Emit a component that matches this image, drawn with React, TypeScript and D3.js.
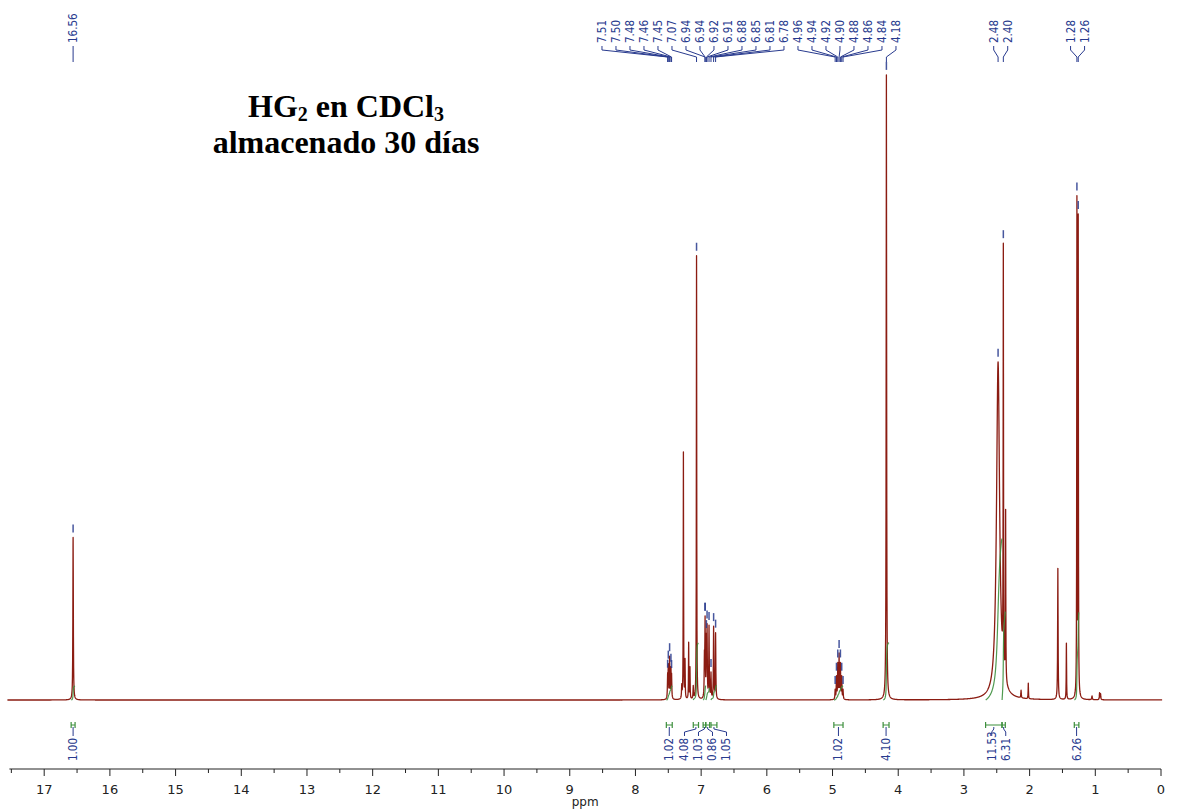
import React from "react";
import * as d3 from "d3";

const WIDTH = 1177;
const HEIGHT = 809;
const BASE_Y = 700;
const TOP_Y = 75;
const AXIS_Y = 769;

const RED = "#8b1c12";
const BLUE = "#283a8e";
const GREEN = "#3d8f3d";
const LABEL_FONT = "'DejaVu Sans Condensed', 'Liberation Sans', sans-serif";

// peaks: chemical shift (ppm), height (% of the 4.18 singlet), half width (ppm)
const peakShifts = [
  16.56,
  7.51, 7.5, 7.48, 7.46, 7.45,
  7.295, 7.27, 7.245, 7.19, 7.17, 7.12, 7.07,
  6.95, 6.94, 6.92, 6.91, 6.88, 6.85, 6.81, 6.78,
  4.96, 4.94, 4.92, 4.9, 4.88, 4.86, 4.84,
  4.18,
  2.48, 2.4, 2.365, 2.13, 2.02,
  1.57, 1.44, 1.28, 1.26, 1.05, 0.935, 0.92,
];
const peakHeights = [
  26,
  3.5, 5, 6.5, 4.5, 3.5,
  2, 39.5, 6, 9, 5, 2, 71,
  6, 12, 8.5, 10.5, 11.5, 4, 11.5, 10.5,
  1.5, 3.5, 5.5, 7, 5.5, 3.5, 1.5,
  100,
  54, 67, 27, 1.2, 2.5,
  21, 9, 79, 76, 0.6, 1.1, 0.9,
];
const peakWidths = [
  0.004,
  0.004, 0.004, 0.004, 0.004, 0.004,
  0.004, 0.003, 0.003, 0.003, 0.003, 0.004, 0.003,
  0.004, 0.004, 0.004, 0.004, 0.004, 0.004, 0.004, 0.004,
  0.004, 0.004, 0.004, 0.004, 0.004, 0.004, 0.004,
  0.004,
  0.028, 0.003, 0.003, 0.004, 0.003,
  0.004, 0.003, 0.003, 0.003, 0.005, 0.004, 0.004,
];

const peakLabels = [
  "16.56",
  "7.51", "7.50", "7.48", "7.46", "7.45", "7.07", "6.94", "6.94", "6.92", "6.91", "6.88", "6.85", "6.81", "6.78",
  "4.96", "4.94", "4.92", "4.90", "4.88", "4.86", "4.84", "4.18",
  "2.48", "2.40",
  "1.28", "1.26",
];

// integration regions
const integralFrom = [16.59, 7.53, 7.12, 6.97, 6.93, 6.85, 4.98, 4.23, 2.67, 2.42, 1.32];
const integralTo = [16.53, 7.44, 7.04, 6.93, 6.87, 6.76, 4.84, 4.14, 2.42, 2.37, 1.25];
const integralValues = [1.0, 1.02, 4.08, 1.03, 0.86, 1.05, 1.02, 4.1, 11.53, 6.31, 6.26];

const majorTicks = [0, 1, 2, 3, 4, 5, 6, 7, 8, 9, 10, 11, 12, 13, 14, 15, 16, 17];
const minorTicks = [0.5, 1.5, 2.5, 3.5, 4.5, 5.5, 6.5, 7.5, 8.5, 9.5, 10.5, 11.5, 12.5, 13.5, 14.5, 15.5, 16.5, 17.5];

const x = d3.scaleLinear().domain([17, 0]).range([44.2, 1161]);
const y = d3.scaleLinear().domain([0, 100]).range([BASE_Y, TOP_Y]);

function intensity(p: number): number {
  let s = 0;
  for (let i = 0; i < peakShifts.length; i++) {
    const d = (p - peakShifts[i]) / peakWidths[i];
    s += peakHeights[i] / (1 + d * d);
  }
  return s;
}

// sample grid, always hitting the peak centres
const grid: number[] = [];
for (let p = 17.56; p >= -0.02; p -= 0.003) grid.push(p);
peakShifts.forEach((p) => grid.push(p));
grid.sort((a, b) => b - a);
const spectrum: [number, number][] = grid.map((p) => [p, intensity(p)]);

// push overlapping labels apart, clusters centred on their mean
function spreadLabels(desired: number[], gap: number): number[] {
  const order = desired.map((_, i) => i).sort((a, b) => desired[a] - desired[b]);
  type Cl = { idx: number[]; sum: number };
  const cls: Cl[] = order.map((i) => ({ idx: [i], sum: desired[i] }));
  const span = (c: Cl) => {
    const n = c.idx.length;
    const m = c.sum / n;
    return [m - ((n - 1) * gap) / 2, m + ((n - 1) * gap) / 2];
  };
  let merged = true;
  while (merged) {
    merged = false;
    for (let k = 0; k < cls.length - 1; k++) {
      if (span(cls[k + 1])[0] - span(cls[k])[1] < gap) {
        cls[k] = { idx: [...cls[k].idx, ...cls[k + 1].idx], sum: cls[k].sum + cls[k + 1].sum };
        cls.splice(k + 1, 1);
        merged = true;
        break;
      }
    }
  }
  const out: number[] = new Array(desired.length);
  cls.forEach((c) => {
    const s = span(c)[0];
    c.idx.forEach((i, j) => (out[i] = s + j * gap));
  });
  return out;
}

export default function App() {
  const line = d3
    .line<[number, number]>()
    .x((d) => x(d[0]))
    .y((d) => y(d[1]));

  // integral curves
  const PX_PER_UNIT = 14;
  const integralCurves = integralFrom.map((from, i) => {
    const to = integralTo[i];
    const pts = spectrum.filter((d) => d[0] <= from && d[0] >= to);
    let cum = 0;
    const acc: [number, number][] = pts.map((d, k) => {
      if (k > 0) cum += ((d[1] + pts[k - 1][1]) / 2) * (pts[k - 1][0] - d[0]);
      return [d[0], cum];
    });
    const total = cum || 1;
    return d3
      .line<[number, number]>()
      .x((d) => x(d[0]))
      .y((d) => BASE_Y - (d[1] / total) * integralValues[i] * PX_PER_UNIT)(acc);
  });

  const peakX = peakLabels.map((t) => x(parseFloat(t)));
  const peakLabelX = spreadLabels(peakX, 14);

  const intX = integralFrom.map((f, i) => x((f + integralTo[i]) / 2));
  const intLabelX = spreadLabels(intX, 14);

  return (
    <svg
      width={WIDTH}
      height={HEIGHT}
      style={{ position: "absolute", left: 0, top: 0, background: "#fff" }}
    >
      {/* title */}
      <g fontFamily="'Liberation Serif', 'Times New Roman', serif" fontWeight="bold" fontSize={32} fill="#000" textAnchor="middle">
        <text x={346} y={117}>
          HG<tspan fontSize={20} dy={4}>2</tspan>
          <tspan dy={-4}>{" en CDCl"}</tspan>
          <tspan fontSize={20} dy={4}>3</tspan>
        </text>
        <text x={346} y={153}>almacenado 30 días</text>
      </g>

      {/* spectrum */}
      <path d={line(spectrum) ?? ""} fill="none" stroke={RED} strokeWidth={1.3} strokeLinejoin="round" />

      {/* integral curves */}
      {integralCurves.map((d, i) => (
        <path key={"ic" + i} d={d ?? ""} fill="none" stroke={GREEN} strokeWidth={1.2} opacity={0.9} />
      ))}

      {/* peak labels */}
      {peakLabels.map((t, i) => {
        const px = peakX[i];
        const lx = peakLabelX[i];
        const top = y(intensity(parseFloat(t)));
        return (
          <g key={"pl" + i}>
            <text
              transform={`translate(${lx},43) rotate(-90)`}
              textAnchor="start"
              dominantBaseline="central"
              fontFamily={LABEL_FONT}
              fontSize={11.5}
              fill={BLUE}
            >
              {t}
            </text>
            <path d={`M${lx},46L${lx},50L${px},57L${px},62`} fill="none" stroke={BLUE} strokeWidth={1} />
            <line x1={px} x2={px} y1={top - 13} y2={top - 5} stroke={BLUE} strokeWidth={1.5} opacity={0.85} />
          </g>
        );
      })}

      {/* integral brackets and labels */}
      {integralValues.map((v, i) => {
        const x0 = x(integralFrom[i]);
        const x1 = x(integralTo[i]);
        const bx = intX[i];
        const lx = intLabelX[i];
        return (
          <g key={"il" + i}>
            <path
              d={`M${x0},725L${x1},725M${x0},722L${x0},728M${x1},722L${x1},728`}
              fill="none"
              stroke={GREEN}
              strokeWidth={1.2}
            />
            <path d={`M${lx},736L${lx},732L${bx},729L${bx},727`} fill="none" stroke={BLUE} strokeWidth={1} />
            <text
              transform={`translate(${lx},761) rotate(-90)`}
              textAnchor="start"
              dominantBaseline="central"
              fontFamily={LABEL_FONT}
              fontSize={11.5}
              fill={BLUE}
            >
              {v.toFixed(2)}
            </text>
          </g>
        );
      })}

      {/* axis */}
      <g stroke="#222" strokeWidth={1}>
        <line x1={x(17.53)} x2={x(0)} y1={AXIS_Y} y2={AXIS_Y} />
        {majorTicks.map((t) => (
          <line key={"M" + t} x1={x(t)} x2={x(t)} y1={AXIS_Y} y2={AXIS_Y + 7} />
        ))}
        {minorTicks.map((t) => (
          <line key={"m" + t} x1={x(t)} x2={x(t)} y1={AXIS_Y} y2={AXIS_Y + 4} />
        ))}
      </g>
      <g fontFamily="'DejaVu Sans', Verdana, sans-serif" fontSize={13} fill="#222" textAnchor="middle">
        {majorTicks.map((t) => (
          <text key={"t" + t} x={x(t)} y={794}>
            {t}
          </text>
        ))}
        <text x={(x(17.53) + x(0)) / 2} y={806} fontSize={12}>
          ppm
        </text>
      </g>
    </svg>
  );
}
